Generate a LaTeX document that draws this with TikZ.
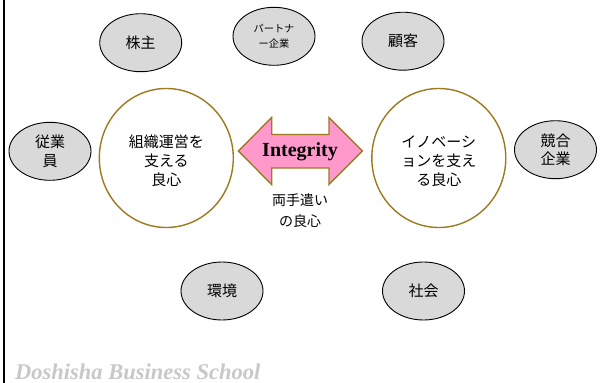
\documentclass[tikz,border=0pt]{standalone}
\usepackage{fontspec}
\setmainfont{Liberation Serif}
\newfontfamily\jp{Noto Sans CJK JP}
\usetikzlibrary{shapes.geometric}
\definecolor{satfill}{HTML}{D9D9D9}
\definecolor{gold}{HTML}{9C7A1E}
\definecolor{pinkf}{HTML}{FF99CC}
\definecolor{wmgray}{HTML}{C8C8C8}
\begin{document}
\begin{tikzpicture}[x=1pt,y=-1pt,
  sat/.style={ellipse, draw=black, line width=0.9pt, fill=satfill,
    minimum width=82pt, minimum height=58pt, inner sep=0pt, align=center,
    font=\jp\fontsize{15}{18.7}\selectfont},
  big/.style={ellipse, draw=gold, line width=1.4pt, fill=white,
    minimum width=134pt, minimum height=139pt, inner sep=0pt},
  bigtext/.style={align=center, inner sep=0pt, font=\jp\fontsize{15}{18.8}\selectfont},
  arrowshape/.style={draw=gold, line width=1.4pt, fill=pinkf, line join=miter}]
\useasboundingbox (0,0) rectangle (600,383);
\fill[white] (0,0) rectangle (600,383);
\draw[line width=2pt] (3.5,0) -- (3.5,383);

% satellites
\node[sat] (kabunushi) at (140.7,42.7) {株主};
\node[sat, font=\jp\fontsize{10.2}{14.4}\selectfont] (partner) at (274,36.3) {パートナ\\ー企業};
\node[sat] (kokyaku) at (403,41.2) {顧客};
\node[sat] (jugyoin) at (50,151.3) {従業\\員};
\node[sat] (kyogo) at (555.5,149.7) {競合\\企業};
\node[sat] (kankyo) at (222,291) {環境};
\node[sat] (shakai) at (423.5,291) {社会};

% big circles
\node[big] (left) at (166.3,158) {};
\node[bigtext] (lefttext) at (166.3,161) {組織運営を\\支える\\良心};
\node[big] (right) at (438.8,158) {};
\node[bigtext] (righttext) at (438.8,161) {イノベーシ\\ョンを支え\\る良心};

% double arrow
\draw[arrowshape] (238.3,151) -- (271.7,117.5) -- (271.7,134.5) -- (329,134.5)
  -- (329,117.5) -- (362.3,151) -- (329,184.5) -- (329,168) -- (271.7,168)
  -- (271.7,184.5) -- cycle;
\node[inner sep=0pt, font=\bfseries\fontsize{20}{24}\selectfont] (integrity) at (300,152) {Integrity};

\node[align=center, inner sep=0pt, font=\jp\fontsize{14}{21.6}\selectfont] (ryote) at (300,210.5) {両手遣い\\の良心};

\node[anchor=base west, inner sep=0pt, text=wmgray,
  font=\bfseries\itshape\fontsize{22.5}{27}\selectfont] (wm) at (15,379.3) {Doshisha Business School};
\end{tikzpicture}
\end{document}
